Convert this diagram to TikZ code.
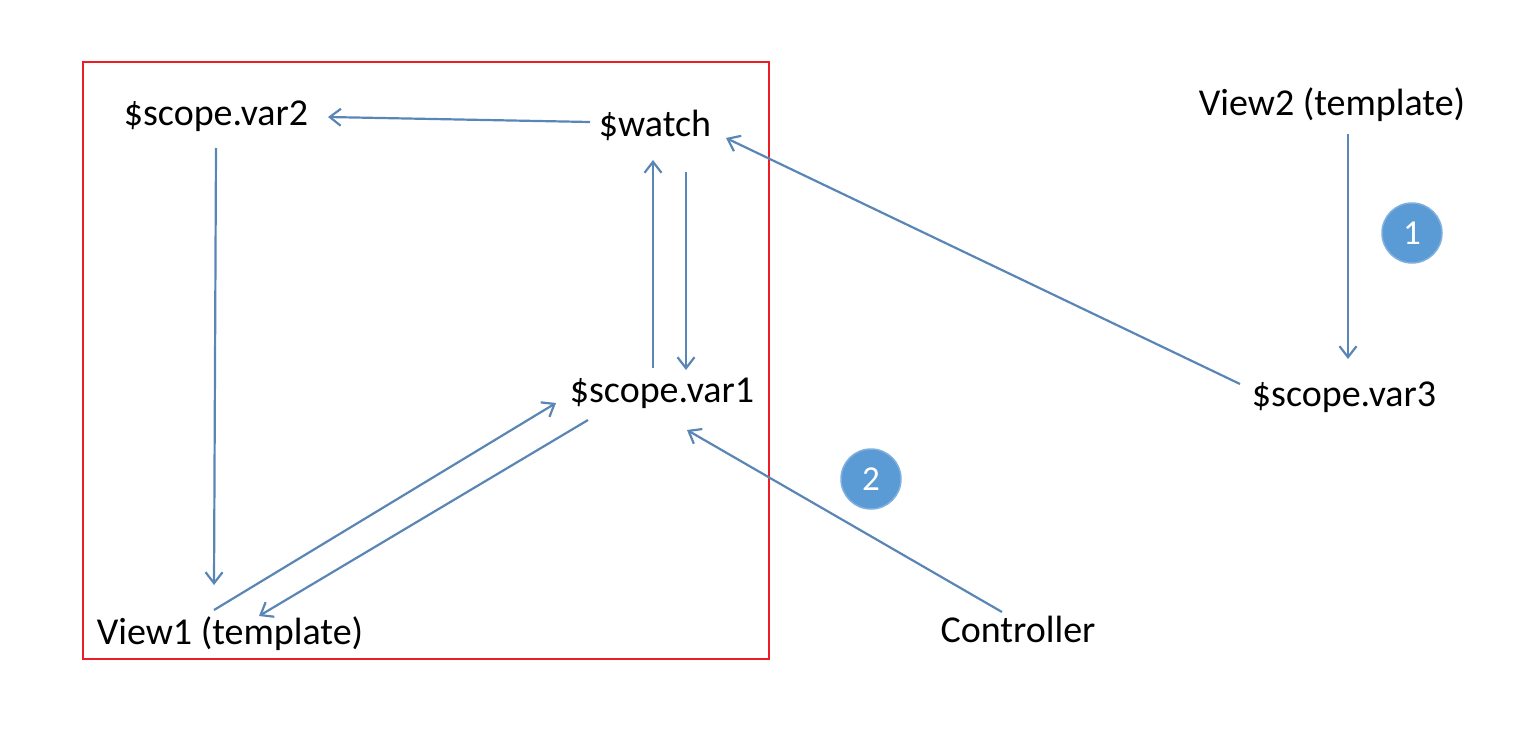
\documentclass[tikz,border=0pt]{standalone}
\usepackage{fontspec}
\setmainfont{Carlito}
\usetikzlibrary{arrows.meta}
\definecolor{arrblue}{HTML}{5A86B6}
\definecolor{circblue}{HTML}{5B9BD5}
\definecolor{circedge}{HTML}{7FB0DE}
\definecolor{boxred}{HTML}{EE1C25}
\tikzset{
  lbl/.style={anchor=base, inner sep=0pt, font=\fontsize{38}{44}\selectfont},
  arr/.style={draw=arrblue, line width=2.2pt, -{Straight Barb[length=11pt,width=17pt,line width=2.2pt]}},
  badge/.style={circle, fill=circblue, draw=circedge, line width=1.5pt, minimum size=60pt, inner sep=0pt, text=white, font=\fontsize{35}{40}\selectfont}
}
\begin{document}
\begin{tikzpicture}[x=1pt,y=-1pt]
\useasboundingbox (0,0) rectangle (1534,738);
\draw[boxred, line width=2pt] (83,62) rectangle (769,659);
\node[lbl] (var2) at (216,126) {\$scope.var2};
\node[lbl] (watch) at (655,137) {\$watch};
\node[lbl] (var1) at (662,402) {\$scope.var1};
\node[lbl] (view1) at (230,644) {View1 (template)};
\node[lbl] (ctrl) at (1018,642) {Controller};
\node[lbl] (view2) at (1332,116) {View2 (template)};
\node[lbl] (var3) at (1344,406) {\$scope.var3};
\node[badge] (b1) at (1412,233) {1};
\node[badge] (b2) at (871,479) {2};
\draw[arr] ([shift={(-65,-15)}]watch.base) -- ([shift={(112,-9)}]var2.base);
\draw[arr] ([shift={(0,22)}]var2.base) -- ([shift={(-16,-59)}]view1.base);
\draw[arr] ([shift={(-9,-34)}]var1.base) -- ([shift={(-2,23)}]watch.base);
\draw[arr] ([shift={(31,35)}]watch.base) -- ([shift={(24,-32)}]var1.base);
\draw[arr] ([shift={(-16,-34)}]view1.base) -- ([shift={(-106,1)}]var1.base);
\draw[arr] ([shift={(-74,18)}]var1.base) -- ([shift={(29,-28)}]view1.base);
\draw[arr] ([shift={(-16,-30)}]ctrl.base) -- ([shift={(25,28)}]var1.base);
\draw[arr] ([shift={(-104,-22)}]var3.base) -- ([shift={(71,1)}]watch.base);
\draw[arr] ([shift={(16,18)}]view2.base) -- ([shift={(4,-47)}]var3.base);
\end{tikzpicture}
\end{document}
